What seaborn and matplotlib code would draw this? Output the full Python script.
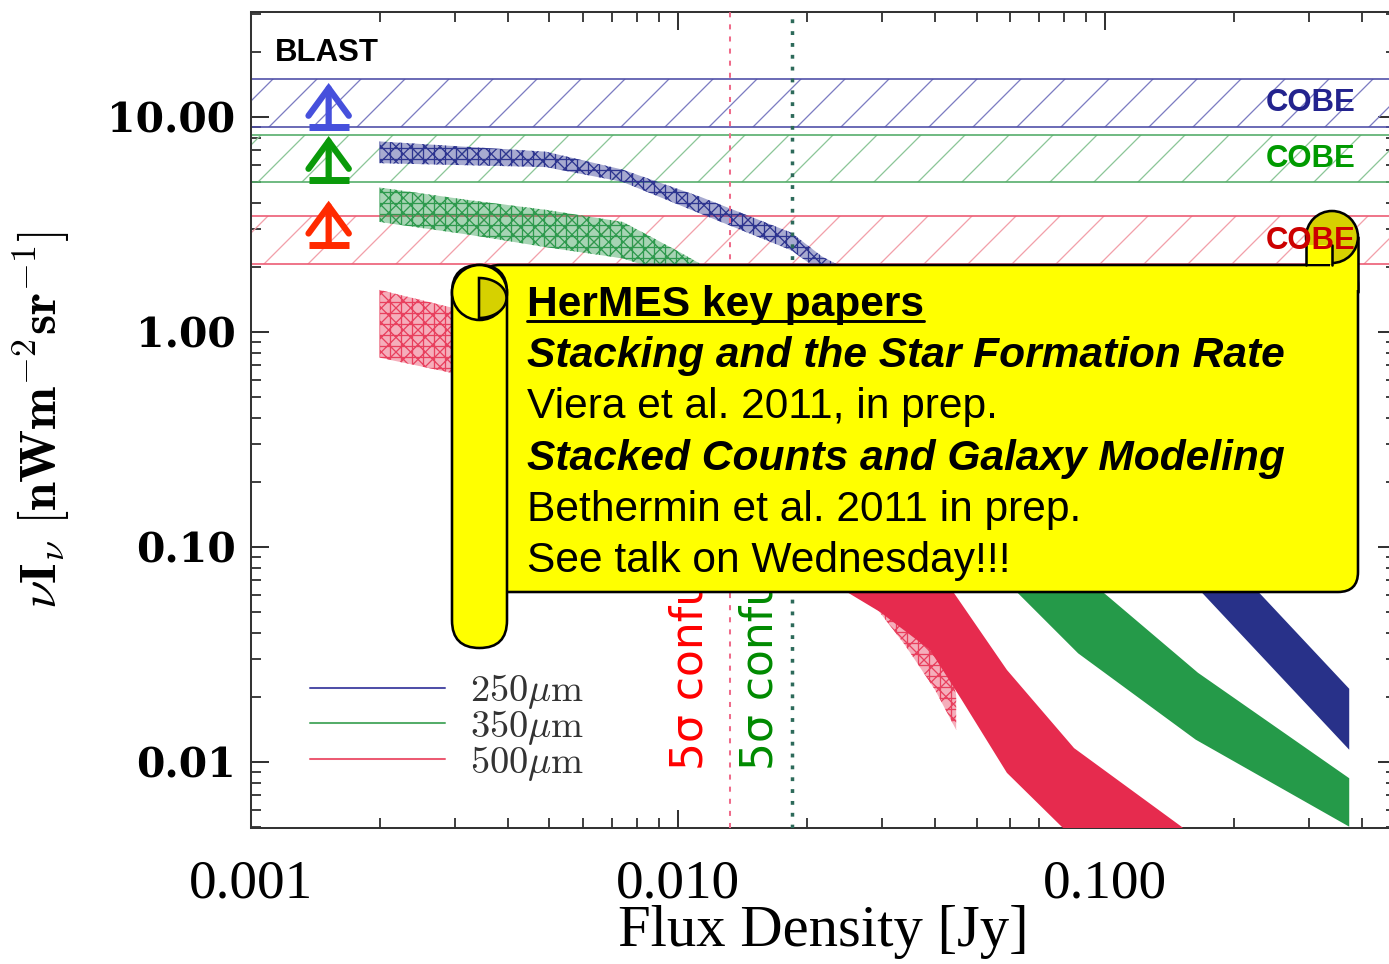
import numpy as np
import pandas as pd
import matplotlib
matplotlib.use("Agg")
import matplotlib.pyplot as plt
from matplotlib.patches import FancyBboxPatch, Circle, Rectangle, Polygon
from matplotlib.lines import Line2D
from matplotlib.transforms import Affine2D
from matplotlib.ticker import LogLocator, NullFormatter, FixedLocator, FixedFormatter
import seaborn as sns

# ---------------- data ----------------
wavelength_um = [250, 350, 500]
band_labels = ["250μm", "350μm", "500μm"]

# COBE background levels (hatched horizontal bands)
cobe_lo = [9.0, 5.0, 2.07]
cobe_hi = [15.0, 8.25, 3.46]

# BLAST lower limits
blast_x = 0.00152
blast_lo = [9.0, 5.1, 2.55]

# stacked (textured) bands
stk250_x = [0.0020, 0.0049, 0.0074, 0.0113, 0.0184, 0.0217, 0.030, 0.040]
stk250_hi = [7.7, 6.9, 5.7, 4.25, 2.9, 2.25, 1.6, 1.1]
stk250_lo = [6.1, 5.85, 5.0, 3.55, 2.4, 1.9, 1.3, 0.9]

stk350_x = [0.0020, 0.00326, 0.00491, 0.00743, 0.0101, 0.015, 0.020]
stk350_hi = [4.7, 4.1, 3.7, 3.25, 2.35, 1.5, 1.0]
stk350_lo = [3.25, 2.83, 2.48, 2.2, 1.8, 1.1, 0.7]

stk500_x = [0.0020, 0.0029, 0.006, 0.012, 0.020, 0.0282, 0.034, 0.040, 0.0448]
stk500_hi = [1.57, 1.31, 0.95, 0.55, 0.30, 0.17, 0.10, 0.05, 0.0205]
stk500_lo = [0.76, 0.65, 0.42, 0.22, 0.11, 0.0566, 0.035, 0.0216, 0.0141]

# solid model bands (upper / lower edges)
mod250_top_x = [0.12, 0.23, 0.373]
mod250_top_y = [0.2, 0.061, 0.0219]
mod250_bot_x = [0.10, 0.169, 0.373]
mod250_bot_y = [0.15, 0.061, 0.0114]

mod350_top_x = [0.05, 0.0995, 0.165, 0.373]
mod350_top_y = [0.2, 0.061, 0.026, 0.0084]
mod350_bot_x = [0.04, 0.0625, 0.0865, 0.163, 0.373]
mod350_bot_y = [0.15, 0.061, 0.032, 0.0127, 0.005]

mod500_top_x = [0.015, 0.025, 0.0443, 0.0589, 0.0846, 0.151, 0.20]
mod500_top_y = [0.5, 0.2, 0.061, 0.0268, 0.0116, 0.005, 0.003]
mod500_bot_x = [0.015, 0.0251, 0.0297, 0.0389, 0.0462, 0.0589, 0.0797, 0.10]
mod500_bot_y = [0.15, 0.061, 0.0499, 0.0332, 0.0194, 0.0089, 0.00493, 0.003]

# 5 sigma confusion limits
conf_x = [0.01324, 0.0185]

# axes
xlim = (0.001, 0.480)
ylim = (0.00493, 30.8)
xtick_vals = [0.001, 0.01, 0.1]
xtick_labels = ["0.001", "0.010", "0.100"]
ytick_vals = [0.01, 0.1, 1.0, 10.0]
ytick_labels = ["0.01", "0.10", "1.00", "10.00"]

box_lines = [
    ("HerMES key papers", "bold", "normal"),
    ("Stacking and the Star Formation Rate", "bold", "italic"),
    ("Viera et al. 2011, in prep.", "normal", "normal"),
    ("Stacked Counts and Galaxy Modeling", "bold", "italic"),
    ("Bethermin et al. 2011 in prep.", "normal", "normal"),
    ("See talk on Wednesday!!!", "normal", "normal"),
]

# ---------------- style ----------------
solid_colors = ["#283189", "#259a49", "#e62b4e"]
cobe_line_colors = ["#5050a8", "#55ad6a", "#ec5b73"]
cobe_hatch_colors = ["#7c7cc2", "#8cc698", "#f2a0aa"]
cobe_text_colors = ["#23238e", "#009a00", "#cc0000"]
stack_colors = ["#2e3590", "#2f9a4e", "#e8405e"]
blast_colors = ["#4650dc", "#0a9a0a", "#ff2a00"]
conf_text_colors = ["#ff0000", "#008a00"]

DPI = 132
W_PX, H_PX = 1389, 964

sns.set_theme(style="ticks")
plt.rcParams.update({
    "font.family": ["Liberation Sans", "DejaVu Sans"],
    "mathtext.fontset": "cm",
    "hatch.linewidth": 0.7,
    "axes.linewidth": 1.1,
    "axes.edgecolor": "#333333",
    "xtick.direction": "in", "ytick.direction": "in",
    "xtick.top": True, "ytick.right": True,
    "xtick.major.size": 10, "ytick.major.size": 10,
    "xtick.minor.size": 5.5, "ytick.minor.size": 5.5,
    "xtick.major.width": 1.1, "ytick.major.width": 1.1,
    "xtick.minor.width": 1.0, "ytick.minor.width": 1.0,
    "xtick.color": "#333333", "ytick.color": "#333333",
    "xtick.labelcolor": "black", "ytick.labelcolor": "black",
})

fig = plt.figure(figsize=(W_PX / DPI, H_PX / DPI), dpi=DPI)
fig.patch.set_facecolor("white")
ax = fig.add_axes([251 / W_PX, (H_PX - 828) / H_PX, 1145 / W_PX, 816 / H_PX])
ax.set_facecolor("white")
ax.set_xscale("log")
ax.set_yscale("log")
ax.set_xlim(*xlim)
ax.set_ylim(*ylim)

# COBE hatched bands
for lo, hi, hc in zip(cobe_lo, cobe_hi, cobe_hatch_colors):
    ax.axhspan(lo, hi, facecolor="none", edgecolor=hc, hatch="/", lw=0, zorder=1)

# COBE band edges via seaborn
rows = []
for lbl, lo, hi in zip(band_labels, cobe_lo, cobe_hi):
    for edge, val in (("lo", lo), ("hi", hi)):
        for xv in xlim:
            rows.append({"band": lbl, "edge": edge, "x": xv, "y": val})
df_edges = pd.DataFrame(rows)
sns.lineplot(data=df_edges, x="x", y="y", hue="band", units="edge", estimator=None,
             palette=dict(zip(band_labels, cobe_line_colors)), lw=0.9, ax=ax,
             legend=True, zorder=2)

# stacked textured bands
for xs, hi, lo, c in ((stk250_x, stk250_hi, stk250_lo, stack_colors[0]),
                      (stk350_x, stk350_hi, stk350_lo, stack_colors[1]),
                      (stk500_x, stk500_hi, stk500_lo, stack_colors[2])):
    rgba = matplotlib.colors.to_rgba(c, 0.42)
    ax.fill_between(xs, lo, hi, facecolor=rgba, edgecolor=c, hatch="++xxx", lw=0, zorder=3)

# solid model bands
for tx, ty, bx, by, c in ((mod250_top_x, mod250_top_y, mod250_bot_x, mod250_bot_y, solid_colors[0]),
                          (mod350_top_x, mod350_top_y, mod350_bot_x, mod350_bot_y, solid_colors[1]),
                          (mod500_top_x, mod500_top_y, mod500_bot_x, mod500_bot_y, solid_colors[2])):
    ax.fill(list(tx) + list(bx)[::-1], list(ty) + list(by)[::-1], color=c, lw=0, zorder=4)

# confusion limit lines
ax.axvline(conf_x[0], color="#ef6b8a", lw=1.1, ls=(0, (2.5, 3.5)), zorder=5)
ax.axvline(conf_x[1], color="#2d6a5a", lw=1.9, ls=(0, (1.1, 2.3)), zorder=5)

# BLAST lower limits
for yv, c in zip(blast_lo, blast_colors):
    ax.plot([blast_x], [yv], marker="_", ms=22, mew=3.8, color=c, zorder=6)
    ax.annotate("", xy=(blast_x, yv * 1.60), xytext=(blast_x, yv),
                arrowprops=dict(arrowstyle="->,head_length=0.75,head_width=0.55",
                                color=c, lw=3.4, shrinkA=0, shrinkB=0,
                                mutation_scale=20, capstyle="round", joinstyle="miter"),
                zorder=6)

ax.text(0.00114, 19.8, "BLAST", fontsize=17, fontweight="bold", color="black",
        ha="left", va="center", zorder=6)
cobe_text_y = [11.6, 6.38, 2.65]
for yv, c in zip(cobe_text_y, cobe_text_colors):
    # drawn at figure level so that it lies above the scroll decoration
    fig.text(0.385, yv, "COBE", transform=ax.transData, fontsize=17, fontweight="bold",
             color=c, ha="right", va="center", zorder=14)

for xv, c in zip([0.01067, 0.01556], conf_text_colors):
    ax.text(xv, 0.00918, "5σ confusion", rotation=90, rotation_mode="anchor",
            ha="left", va="center", fontsize=24, color=c, family="DejaVu Sans", zorder=6)

# ticks
ax.xaxis.set_major_locator(FixedLocator(xtick_vals))
ax.xaxis.set_major_formatter(FixedFormatter(xtick_labels))
ax.yaxis.set_major_locator(FixedLocator(ytick_vals))
ax.yaxis.set_major_formatter(FixedFormatter(ytick_labels))
ax.xaxis.set_minor_locator(LogLocator(base=10, subs=np.arange(2, 10)))
ax.yaxis.set_minor_locator(LogLocator(base=10, subs=np.arange(2, 10)))
ax.xaxis.set_minor_formatter(NullFormatter())
ax.yaxis.set_minor_formatter(NullFormatter())
ax.tick_params(axis="x", which="major", pad=17)
ax.tick_params(axis="y", which="major", pad=8.5)
for t in ax.get_xticklabels():
    t.set_fontfamily("Liberation Serif")
    t.set_fontsize(30)
for t in ax.get_yticklabels():
    t.set_fontfamily("DejaVu Serif")
    t.set_fontweight("bold")
    t.set_fontsize(22.4)
for s in ax.spines.values():
    s.set_visible(True)

ax.set_xlabel("Flux Density [Jy]", fontfamily="Liberation Serif", fontsize=32, color="black")
ax.xaxis.set_label_coords(0.5, -0.094)
ax.set_ylabel(r"$\nu\mathbf{I}_{\nu}\ [\mathbf{nWm}^{-2}\mathbf{sr}^{-1}]$", fontsize=28, color="black")
ax.yaxis.set_label_coords(-0.156, 0.5)

# legend
leg_handles = [Line2D([0], [0], color=c, lw=1.1) for c in cobe_line_colors]
leg_labels = [r"$\mathrm{%d}\mu\mathrm{m}$" % w for w in wavelength_um]
leg = ax.legend(leg_handles, leg_labels, loc="upper left",
                bbox_to_anchor=((310 - 251) / 1145, (828 - 672) / 816),
                frameon=False, fontsize=21, handlelength=3.5, handletextpad=0.65,
                labelspacing=-0.08, borderpad=0, borderaxespad=0)
for t in leg.get_texts():
    t.set_color("#333333")

# ---------------- yellow scroll annotation (figure pixel space) ----------------
tr = Affine2D().scale(1, -1).translate(0, H_PX)
YEL = "#ffff00"
DARK = "#d6d100"
LW = 1.4

body = FancyBboxPatch((480, 265), 878, 327, boxstyle="round,pad=0,rounding_size=20",
                      fc=YEL, ec="black", lw=LW, transform=tr, zorder=10)
fig.add_artist(body)
fig.add_artist(Rectangle((1330, 235), 28, 55, fc=YEL, ec="none", lw=0, transform=tr, zorder=10.5))
fig.add_artist(Line2D([1358, 1358], [237, 292], color="black", lw=LW, transform=tr, zorder=10.6))
fig.add_artist(Circle((1332, 237), 26, fc=DARK, ec="black", lw=LW, transform=tr, zorder=10.7))
fig.add_artist(Rectangle((1306, 245), 26, 19, fc=YEL, ec="none", lw=0, transform=tr, zorder=10.8))
for xx in (1306, 1332):
    fig.add_artist(Line2D([xx, xx], [245, 265], color="black", lw=LW, transform=tr, zorder=10.9))

roll = FancyBboxPatch((452, 265), 55, 383, boxstyle="round,pad=0,rounding_size=27.5",
                      fc=YEL, ec="black", lw=LW, transform=tr, zorder=11)
fig.add_artist(roll)
fig.add_artist(Circle((479.5, 292.5), 27.5, fc=YEL, ec="black", lw=LW, transform=tr, zorder=11.5))
tt = np.linspace(-np.pi / 2, np.pi / 2, 40)
dpts = np.column_stack([479 + 27.5 * np.cos(tt), 298 + 20 * np.sin(tt)])
fig.add_artist(Polygon(dpts, closed=True, fc=DARK, ec="black", lw=LW, transform=tr, zorder=12))

baselines = [316, 367, 418, 470, 521, 572]
txts = []
for (s, wgt, sty), yb in zip(box_lines, baselines):
    t = fig.text(527, yb, s, transform=tr, fontsize=23.2, fontweight=wgt, fontstyle=sty,
                 family="Liberation Sans", color="black", ha="left", va="baseline", zorder=13)
    txts.append(t)

fig.canvas.draw()
bb = txts[0].get_window_extent(renderer=fig.canvas.get_renderer())
fig.add_artist(Line2D([bb.x0, bb.x1], [H_PX - 321, H_PX - 321], color="black", lw=1.6,
                      transform=Affine2D(), zorder=13))

fig.savefig("out.png", dpi=DPI, facecolor="white")
